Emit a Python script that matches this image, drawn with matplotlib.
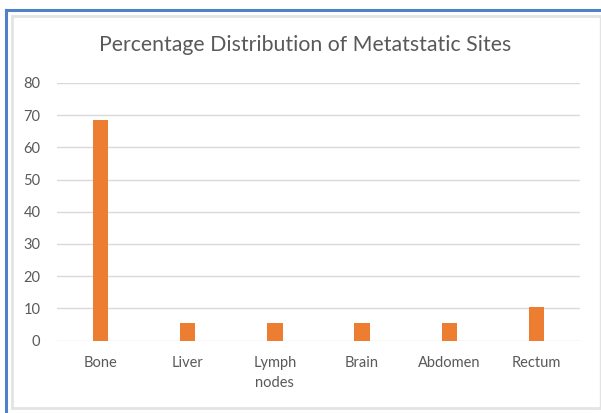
import matplotlib
matplotlib.use("Agg")
import matplotlib.pyplot as plt
from matplotlib.lines import Line2D
import numpy as np

sites = ["Bone", "Liver", "Lymph\nnodes", "Brain", "Abdomen", "Rectum"]
percent = [68.4, 5.3, 5.3, 5.3, 5.3, 10.4]
yticks = [0, 10, 20, 30, 40, 50, 60, 70, 80]

plt.rcParams['font.family'] = ['Lato', 'DejaVu Sans']
W, H = 601, 413
fig = plt.figure(figsize=(W / 100, H / 100), dpi=100)
ax = fig.add_axes([57 / W, 1 - 340.5 / H, 523 / W, 257.5 / H])

x = np.arange(len(sites))
ax.bar(x, percent, width=0.175, color="#ed7d31", zorder=3)
ax.set_xlim(-0.5, len(sites) - 0.5)
ax.set_ylim(0, 80)
ax.set_yticks(yticks)
ax.set_xticks(x)
ax.set_xticklabels(sites, linespacing=1.55)
ax.grid(axis="y", color="#d9d9d9", linewidth=1, zorder=0)
for s in ax.spines.values():
    s.set_visible(False)
ax.tick_params(length=0, colors="#595959", labelsize=10.5)
ax.tick_params(axis="y", pad=12)
ax.tick_params(axis="x", pad=11)

fig.text(305 / W, 1 - 45 / H, "Percentage Distribution of Metatstatic Sites",
         ha="center", va="center", fontsize=15.3, color="#595959")

# chart frame (gray) and selection frame (blue)
gray = "#e3e3e3"
fig.add_artist(Line2D([12 / W, 12 / W], [1 - 16 / H, 1 - 408 / H], transform=fig.transFigure, color=gray, lw=2))
fig.add_artist(Line2D([12 / W, 1], [1 - 16 / H, 1 - 16 / H], transform=fig.transFigure, color=gray, lw=2))
fig.add_artist(Line2D([12 / W, 1], [1 - 408 / H, 1 - 408 / H], transform=fig.transFigure, color=gray, lw=2))
fig.add_artist(Line2D([600 / W, 600 / W], [1 - 16 / H, 1 - 408 / H], transform=fig.transFigure, color=gray, lw=1))
blue = "#4f81c7"
fig.add_artist(Line2D([6 / W, 6 / W], [1 - 10 / H, 0], transform=fig.transFigure, color=blue, lw=2.2))
fig.add_artist(Line2D([6 / W, 1], [1 - 10 / H, 1 - 10 / H], transform=fig.transFigure, color=blue, lw=2.2))

fig.savefig("out.png", dpi=100)
